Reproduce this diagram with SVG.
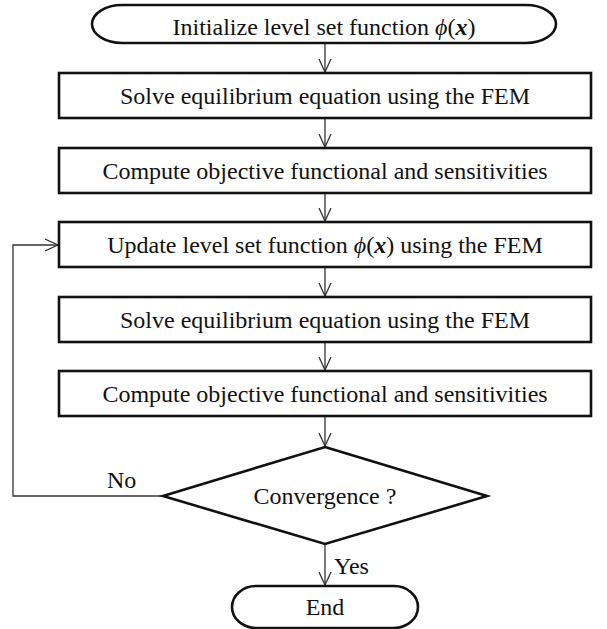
<svg xmlns="http://www.w3.org/2000/svg" width="607" height="629" viewBox="0 0 607 629">
<defs>
<style>
.shape{fill:#fff;stroke:#111;stroke-width:2.6}
.lbl{font-family:"Liberation Serif","DejaVu Serif","Times New Roman",serif;font-size:24px;fill:#111;text-anchor:middle}
.side{font-family:"Liberation Serif","DejaVu Serif","Times New Roman",serif;font-size:24px;fill:#111}
.conn{fill:none;stroke:#333;stroke-width:1.3}
</style>
<marker id="arr" viewBox="0 0 14 14" refX="13" refY="7" markerWidth="14" markerHeight="14" markerUnits="userSpaceOnUse" orient="auto">
<path d="M0,1 L13,7 L0,13" fill="none" stroke="#333" stroke-width="1.3"/>
</marker>
</defs>
<rect width="607" height="629" fill="#fff"/>
<g id="connectors">
<line class="conn" x1="325" y1="44" x2="325" y2="72" marker-end="url(#arr)"/>
<line class="conn" x1="325" y1="119" x2="325" y2="147" marker-end="url(#arr)"/>
<line class="conn" x1="325" y1="193" x2="325" y2="221" marker-end="url(#arr)"/>
<line class="conn" x1="325" y1="268" x2="325" y2="296" marker-end="url(#arr)"/>
<line class="conn" x1="325" y1="342" x2="325" y2="370" marker-end="url(#arr)"/>
<line class="conn" x1="325" y1="417" x2="325" y2="446" marker-end="url(#arr)"/>
<polyline class="conn" points="163,496 13,496 13,245 58,245" marker-end="url(#arr)"/>
<line class="conn" x1="325" y1="544" x2="325" y2="585" marker-end="url(#arr)"/>
<text class="side" x="107" y="488">No</text>
<text class="side" x="334" y="574">Yes</text>
</g>
<g id="start">
<path class="shape" d="M122,5 H526 A30,19 0 0 1 526,43 H122 A30,19 0 0 1 122,5 Z"/>
<text class="lbl" x="324" y="35">Initialize level set function <tspan font-style="italic">ϕ</tspan>(<tspan font-style="italic" font-weight="bold">x</tspan>)</text>
</g>
<g id="solve1">
<rect class="shape" x="59" y="73" width="532" height="45"/>
<text class="lbl" x="325" y="104">Solve equilibrium equation using the FEM</text>
</g>
<g id="compute1">
<rect class="shape" x="59" y="148" width="532" height="45"/>
<text class="lbl" x="325" y="179">Compute objective functional and sensitivities</text>
</g>
<g id="update">
<rect class="shape" x="59" y="222" width="532" height="45"/>
<text class="lbl" x="325" y="253">Update level set function <tspan font-style="italic">ϕ</tspan>(<tspan font-style="italic" font-weight="bold">x</tspan>) using the FEM</text>
</g>
<g id="solve2">
<rect class="shape" x="59" y="297" width="532" height="45"/>
<text class="lbl" x="325" y="328">Solve equilibrium equation using the FEM</text>
</g>
<g id="compute2">
<rect class="shape" x="59" y="371" width="532" height="45"/>
<text class="lbl" x="325" y="402">Compute objective functional and sensitivities</text>
</g>
<g id="convergence">
<polygon class="shape" points="325,447 487,496 325,544 163,496"/>
<text class="lbl" x="325" y="504">Convergence ?</text>
</g>
<g id="end">
<path class="shape" d="M256,586 H394 A24,21 0 0 1 394,628 H256 A24,21 0 0 1 256,586 Z"/>
<text class="lbl" x="325" y="615">End</text>
</g>
</svg>
